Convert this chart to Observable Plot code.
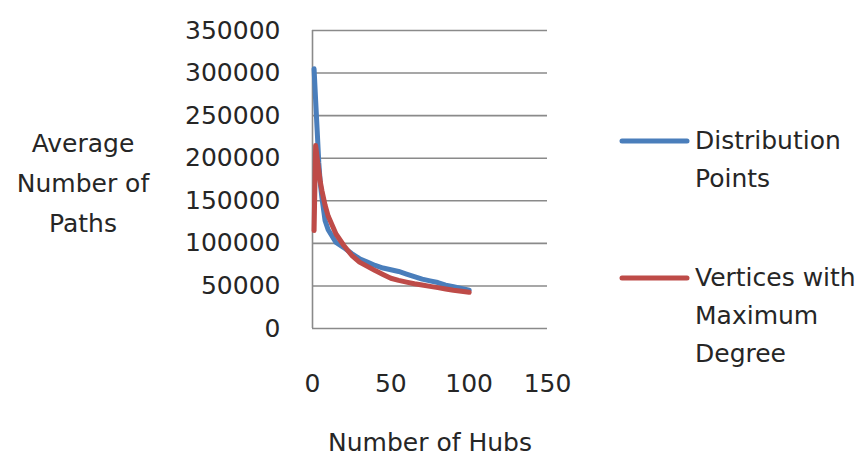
<!DOCTYPE html>
<html>
<head>
<meta charset="utf-8">
<script src="https://cdn.jsdelivr.net/npm/d3@7"></script>
<script src="https://cdn.jsdelivr.net/npm/@observablehq/plot@0.6"></script>
<style>
  html, body { margin: 0; padding: 0; background: #fff; }
  #chart { width: 866px; height: 459px; }
</style>
</head>
<body>
<div id="chart"></div>
<script>
// ---- data ----
const hubs = [1, 2, 3, 4, 5, 6, 8, 10, 15, 20, 25, 30, 35, 40, 45, 50, 55, 60, 65, 70, 75, 80, 85, 90, 95, 100];
const distributionPoints = [305000, 268000, 232000, 195000, 170000, 154000, 127000, 116000, 101000, 95000, 88000, 82000, 78000, 74000, 71000, 69000, 67000, 64000, 61000, 58000, 56000, 54000, 51000, 49000, 47000, 45000];
const maxDegreeVertices = [115000, 215000, 200000, 186000, 172000, 162000, 145000, 132000, 111000, 97500, 86000, 78000, 73000, 68000, 63500, 59000, 56500, 54500, 52500, 51000, 49500, 48000, 46500, 45000, 43800, 42500];
const seriesNames = ["Distribution Points", "Vertices with Maximum Degree"];
const seriesColors = ["#4A7EBB", "#BE4B48"];
const xTicks = [0, 50, 100, 150];
const yTicks = [0, 50000, 100000, 150000, 200000, 250000, 300000, 350000];
const xTitle = "Number of Hubs";
const yTitleLines = ["Average", "Number of", "Paths"];
const legendLines = [["Distribution", "Points"], ["Vertices with", "Maximum", "Degree"]];

const rows = [];
hubs.forEach((h, i) => {
  rows.push({hubs: h, value: distributionPoints[i], series: seriesNames[0]});
  rows.push({hubs: h, value: maxDegreeVertices[i], series: seriesNames[1]});
});

const font = "DejaVu Sans";
const textColor = "#262626";
const gridColor = "#8a8a8a";

const plot = Plot.plot({
  width: 866,
  height: 459,
  marginLeft: 312,
  marginRight: 319,
  marginTop: 30,
  marginBottom: 131,
  style: {fontFamily: font, fontSize: "25px", color: textColor, background: "#fff"},
  x: {domain: [0, 150], ticks: xTicks},
  y: {domain: [0, 350000], ticks: yTicks},
  color: {domain: seriesNames, range: seriesColors},
  marks: [
    Plot.gridY(yTicks, {stroke: gridColor, strokeOpacity: 1, strokeWidth: 1.6}),
    Plot.ruleX([0], {stroke: gridColor, strokeWidth: 1.6}),
    Plot.axisY(yTicks, {tickSize: 0, tickPadding: 32, tickFormat: d => String(d), label: null, fontSize: 25}),
    Plot.axisX(xTicks, {tickSize: 0, tickPadding: 46, tickFormat: d => String(d), label: null, fontSize: 25}),
    Plot.line(rows, {x: "hubs", y: "value", stroke: "series", z: "series", strokeWidth: 5, strokeLinejoin: "round", strokeLinecap: "round"})
  ]
});
document.getElementById("chart").appendChild(plot);

// ---- titles and legend (outside the plot area) ----
const svg = d3.select(plot);
const addText = (x, y, t, anchor) => svg.append("text")
  .attr("x", x).attr("y", y).attr("text-anchor", anchor)
  .attr("fill", textColor).attr("font-family", font).attr("font-size", 25).text(t);

yTitleLines.forEach((t, i) => addText(83, 152 + i * 40, t, "middle"));
addText(430, 451, xTitle, "middle");

const legendY = [141, 278];
legendLines.forEach((lines, k) => {
  svg.append("line")
    .attr("x1", 622).attr("x2", 687)
    .attr("y1", legendY[k]).attr("y2", legendY[k])
    .attr("stroke", seriesColors[k]).attr("stroke-width", 5).attr("stroke-linecap", "round");
  lines.forEach((t, i) => addText(695, legendY[k] + 8 + i * 38, t, "start"));
});
</script>
</body>
</html>
